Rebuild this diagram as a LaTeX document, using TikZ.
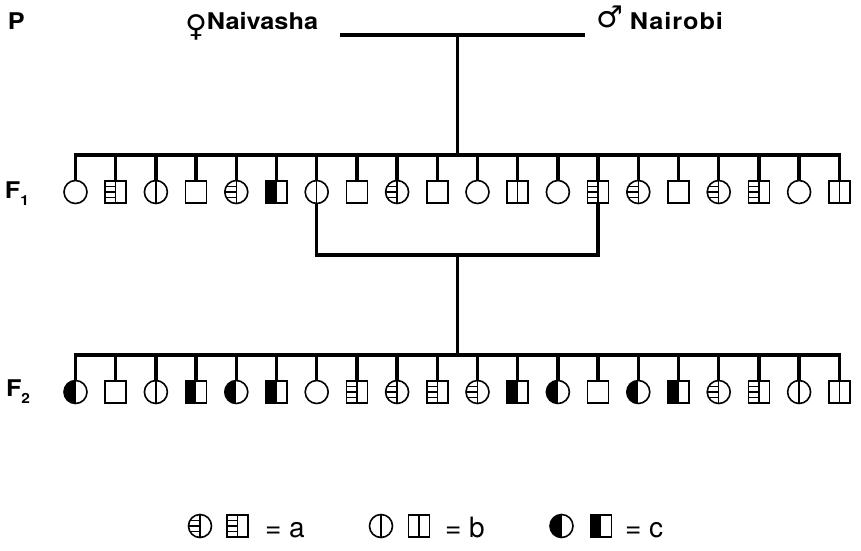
\documentclass[tikz,border=0pt]{standalone}
\usepackage{fontspec}
\setmainfont{TeX Gyre Heros}
\newfontfamily\symf{DejaVu Sans}
\newfontfamily\labf{TeX Gyre Heros}[FakeStretch=1.1]
\newfontfamily\labfs{TeX Gyre Heros}[FakeStretch=1.1,LetterSpace=4]
\usetikzlibrary{calc}
\begin{document}
\begin{tikzpicture}[x=1pt,y=-1pt,
  sym/.style={draw, line width=1.6pt, inner sep=0pt, outer sep=0pt},
  fem/.style={sym, circle, minimum size=23pt},
  mal/.style={sym, rectangle, minimum width=21pt, minimum height=22pt},
  p0/.style={},
  pb/.style={path picture={\draw[line width=1.3pt] (path picture bounding box.north) -- (path picture bounding box.south);}},
  pa/.style={path picture={\draw[line width=1.3pt] (path picture bounding box.north) -- (path picture bounding box.south);
     \foreach \f in {0.25,0.5,0.75}{\draw[line width=1.2pt] ($(path picture bounding box.north west)!\f!(path picture bounding box.south west)$) -- ($(path picture bounding box.north)!\f!(path picture bounding box.south)$);}}},
  pc/.style={path picture={\fill (path picture bounding box.north west) rectangle (path picture bounding box.south);}},
  conn/.style={line width=3.3pt, line join=miter},
  lab/.style={inner sep=0pt, outer sep=0pt, font=\labf\fontsize{23}{23}\selectfont\bfseries},
  leg/.style={inner sep=0pt, outer sep=0pt, font=\fontsize{28}{28}\selectfont}
]
\useasboundingbox (0,0) rectangle (861,550);
% labels
\node[lab, anchor=base west] (P) at (8,29) {P};
\node[lab, anchor=base west] (F1) at (5,198) {F\raisebox{-7pt}{\fontsize{14}{14}\selectfont 1}};
\node[lab, anchor=base west] (F2) at (6,396) {F\raisebox{-7pt}{\fontsize{14}{14}\selectfont 2}};
\node[lab, anchor=base west] (nv) at (185,29.3) {\raisebox{-7pt}{\symf\bfseries\fontsize{30}{30}\selectfont ♀}Naivasha};
\node[lab, anchor=base west] (nr) at (596,29.3) {\raisebox{1.5pt}{\symf\bfseries\fontsize{30}{30}\selectfont ♂}\hspace{7pt}{\labfs Nairobi}};
% parents
\coordinate (pl) at (340,35);
\coordinate (pr) at (585,35);
\coordinate (pm) at (457.4,35);
\coordinate (f1bar) at (0,155);
\coordinate (m1) at (457.4,255);
\coordinate (f2bar) at (0,355);
\draw[conn] (pl) -- (pr);
\draw[conn] (pm) -- (pm |- f1bar);
% F1
\node[fem,p0] (a1) at (75.5,192) {};
\node[mal,pa] (a2) at (115.7,192) {};
\node[fem,pb] (a3) at (155.9,192) {};
\node[mal,p0] (a4) at (196.1,192) {};
\node[fem,pa] (a5) at (236.3,192) {};
\node[mal,pc] (a6) at (276.5,192) {};
\node[fem,pb] (a7) at (316.7,192) {};
\node[mal,p0] (a8) at (356.9,192) {};
\node[fem,pa] (a9) at (397.1,192) {};
\node[mal,p0] (a10) at (437.3,192) {};
\node[fem,p0] (a11) at (477.5,192) {};
\node[mal,pb] (a12) at (517.7,192) {};
\node[fem,p0] (a13) at (557.9,192) {};
\node[mal,pa] (a14) at (598.1,192) {};
\node[fem,pa] (a15) at (638.3,192) {};
\node[mal,p0] (a16) at (678.5,192) {};
\node[fem,pa] (a17) at (718.7,192) {};
\node[mal,pa] (a18) at (758.9,192) {};
\node[fem,p0] (a19) at (799.1,192) {};
\node[mal,pb] (a20) at (839.3,192) {};
\draw[conn] (a1.north) -- (a1.north |- f1bar) -- (a20.north |- f1bar) -- (a20.north);
\foreach \i in {2,...,19} \draw[conn] (a\i.north) -- (a\i.north |- f1bar);
% F1 mating
\draw[conn] (a7.south) -- (a7.south |- m1) -- (a14.south |- m1) -- (a14.south);
\draw[conn] (m1) -- (m1 |- f2bar);
% F2
\node[fem,pc] (b1) at (75.5,392) {};
\node[mal,p0] (b2) at (115.7,392) {};
\node[fem,pb] (b3) at (155.9,392) {};
\node[mal,pc] (b4) at (196.1,392) {};
\node[fem,pc] (b5) at (236.3,392) {};
\node[mal,pc] (b6) at (276.5,392) {};
\node[fem,p0] (b7) at (316.7,392) {};
\node[mal,pa] (b8) at (356.9,392) {};
\node[fem,pa] (b9) at (397.1,392) {};
\node[mal,pa] (b10) at (437.3,392) {};
\node[fem,pa] (b11) at (477.5,392) {};
\node[mal,pc] (b12) at (517.7,392) {};
\node[fem,pc] (b13) at (557.9,392) {};
\node[mal,p0] (b14) at (598.1,392) {};
\node[fem,pc] (b15) at (638.3,392) {};
\node[mal,pc] (b16) at (678.5,392) {};
\node[fem,pa] (b17) at (718.7,392) {};
\node[mal,pa] (b18) at (758.9,392) {};
\node[fem,pb] (b19) at (799.1,392) {};
\node[mal,pb] (b20) at (839.3,392) {};
\draw[conn] (b1.north) -- (b1.north |- f2bar) -- (b20.north |- f2bar) -- (b20.north);
\foreach \i in {2,...,19} \draw[conn] (b\i.north) -- (b\i.north |- f2bar);
% legend
\node[fem,pa] (la1) at (200,526) {};
\node[mal,pa] (la2) at (237.5,526) {};
\node[leg, anchor=base west] (lat) at (265,537) {= a};
\node[fem,pb] (lb1) at (381,526) {};
\node[mal,pb] (lb2) at (419,526) {};
\node[leg, anchor=base west] (lbt) at (445,537) {= b};
\node[fem,pc] (lc1) at (561.5,526) {};
\node[mal,pc] (lc2) at (601,526) {};
\node[leg, anchor=base west] (lct) at (625,537) {= c};
\end{tikzpicture}
\end{document}
